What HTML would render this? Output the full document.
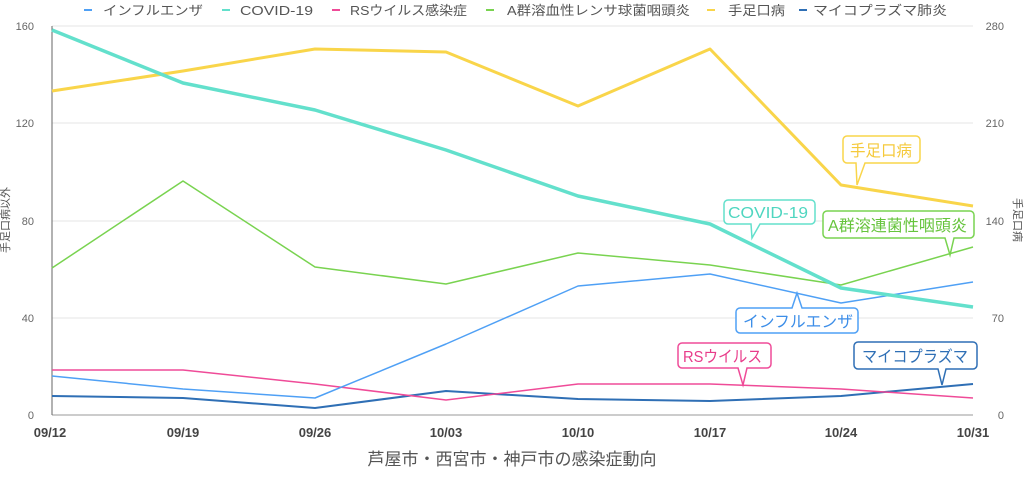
<!DOCTYPE html>
<html><head><meta charset="utf-8"><style>
body{margin:0;background:#fff;}
svg{font-family:"Liberation Sans","Noto Sans CJK JP",sans-serif;}
</style></head><body>
<svg width="1024" height="472" viewBox="0 0 1024 472">
<g font-size="13" fill="#555">
<line x1="84" y1="10" x2="92" y2="10" stroke="#4fa0f5" stroke-width="2"/><text x="103" y="15" textLength="100" lengthAdjust="spacingAndGlyphs">インフルエンザ</text>
<line x1="222" y1="10" x2="230" y2="10" stroke="#63e0cc" stroke-width="2"/><text x="240" y="15" textLength="73" lengthAdjust="spacingAndGlyphs">COVID-19</text>
<line x1="332" y1="10" x2="340" y2="10" stroke="#ef4b98" stroke-width="2"/><text x="350" y="15" textLength="117" lengthAdjust="spacingAndGlyphs">RSウイルス感染症</text>
<line x1="486" y1="10" x2="494" y2="10" stroke="#79d350" stroke-width="2"/><text x="507" y="15" textLength="183" lengthAdjust="spacingAndGlyphs">A群溶血性レンサ球菌咽頭炎</text>
<line x1="707" y1="10" x2="715" y2="10" stroke="#f9d54a" stroke-width="2"/><text x="728" y="15" textLength="57" lengthAdjust="spacingAndGlyphs">手足口病</text>
<line x1="799" y1="10" x2="807" y2="10" stroke="#2f6fb5" stroke-width="2"/><text x="813" y="15" textLength="134" lengthAdjust="spacingAndGlyphs">マイコプラズマ肺炎</text>
</g>
<g stroke="#e6e6e6" stroke-width="1">
<line x1="52" y1="26" x2="973" y2="26"/><line x1="52" y1="123" x2="973" y2="123"/><line x1="52" y1="221" x2="973" y2="221"/><line x1="52" y1="318" x2="973" y2="318"/>
</g>
<line x1="52" y1="415" x2="973" y2="415" stroke="#999"/>
<line x1="52" y1="26" x2="52" y2="415" stroke="#666"/>
<g font-size="11" fill="#666" text-anchor="end">
<text x="34" y="30">160</text><text x="34" y="127">120</text><text x="34" y="225">80</text><text x="34" y="322">40</text><text x="34" y="419">0</text>
</g>
<g font-size="11" fill="#666" text-anchor="end">
<text x="1004" y="30">280</text><text x="1004" y="127">210</text><text x="1004" y="225">140</text><text x="1004" y="322">70</text><text x="1004" y="419">0</text>
</g>
<text transform="translate(9,220) rotate(-90)" font-size="11" fill="#555" text-anchor="middle">手足口病以外</text>
<text transform="translate(1014,220) rotate(90)" font-size="11" fill="#555" text-anchor="middle">手足口病</text>
<g font-size="13" font-weight="bold" fill="#444" text-anchor="middle">
<text x="50" y="437">09/12</text><text x="183" y="437">09/19</text><text x="315" y="437">09/26</text><text x="446" y="437">10/03</text><text x="578" y="437">10/10</text><text x="710" y="437">10/17</text><text x="841" y="437">10/24</text><text x="973" y="437">10/31</text>
</g>
<text x="512" y="465" font-size="17" fill="#555" text-anchor="middle">芦屋市・西宮市・神戸市の感染症動向</text>
<g fill="none" stroke-linejoin="round">
<polyline stroke="#2f6fb5" stroke-width="2" points="52,396 183,398 315,408 446,391 578,399 710,401 841,396 973,384"/>
<polyline stroke="#ef4b98" stroke-width="1.5" points="52,370 183,370 315,384 446,400 578,384 710,384 841,389 973,398"/>
<polyline stroke="#4fa0f5" stroke-width="1.5" points="52,376 183,389 315,398 446,344 578,286 710,274 841,303 973,282"/>
<polyline stroke="#79d350" stroke-width="1.5" points="52,268 183,181 315,267 446,284 578,253 710,265 841,285 973,247"/>
<polyline stroke="#f9d54a" stroke-width="3" points="52,91 183,71 315,49 446,52 578,106 710,49 841,185 973,206"/>
<polyline stroke="#63e0cc" stroke-width="3.5" points="52,30 183,83 315,110 446,150 578,196 710,224 841,288 973,307"/>
</g>
<g font-size="16" stroke-width="1.5" lengthAdjust="spacingAndGlyphs">
<path d="M847,136 h69 a4,4 0 0 1 4,4 v19 a4,4 0 0 1 -4,4 h-51 l-8,22 l-1,-22 h-9 a4,4 0 0 1 -4,-4 v-19 a4,4 0 0 1 4,-4z" fill="#fff" stroke="#f9d54a"/>
<text x="850" y="156" fill="#f5c93a" textLength="62" lengthAdjust="spacingAndGlyphs">手足口病</text>
<path d="M728,200 h83 a4,4 0 0 1 4,4 v16 a4,4 0 0 1 -4,4 h-51 l-8,14 l-1,-14 h-23 a4,4 0 0 1 -4,-4 v-16 a4,4 0 0 1 4,-4z" fill="#fff" stroke="#63e0cc"/>
<text x="728" y="218" fill="#4fd6c0" textLength="80" lengthAdjust="spacingAndGlyphs">COVID-19</text>
<path d="M827,211 h143 a4,4 0 0 1 4,4 v19 a4,4 0 0 1 -4,4 h-16 l-4,17 l-5,-17 h-118 a4,4 0 0 1 -4,-4 v-19 a4,4 0 0 1 4,-4z" fill="#fff" stroke="#79d350"/>
<text x="828" y="231" fill="#66c43c" textLength="139" lengthAdjust="spacingAndGlyphs">A群溶連菌性咽頭炎</text>
<path d="M740,308 h52 l5,-15 l5,15 h52 a4,4 0 0 1 4,4 v17 a4,4 0 0 1 -4,4 h-114 a4,4 0 0 1 -4,-4 v-17 a4,4 0 0 1 4,-4z" fill="#fff" stroke="#4fa0f5"/>
<text x="743" y="327" fill="#3d8ee8" textLength="110" lengthAdjust="spacingAndGlyphs">インフルエンザ</text>
<path d="M682,343 h85 a4,4 0 0 1 4,4 v17 a4,4 0 0 1 -4,4 h-20 l-4,17 l-5,-17 h-56 a4,4 0 0 1 -4,-4 v-17 a4,4 0 0 1 4,-4z" fill="#fff" stroke="#ef4b98"/>
<text x="683" y="362" fill="#e83c8a" textLength="79" lengthAdjust="spacingAndGlyphs">RSウイルス</text>
<path d="M858,342 h115 a4,4 0 0 1 4,4 v19 a4,4 0 0 1 -4,4 h-27 l-4,16 l-4,-16 h-80 a4,4 0 0 1 -4,-4 v-19 a4,4 0 0 1 4,-4z" fill="#fff" stroke="#2f6fb5"/>
<text x="862" y="362" fill="#2f6fb5" textLength="106" lengthAdjust="spacingAndGlyphs">マイコプラズマ</text>
</g>
</svg>
</body></html>
